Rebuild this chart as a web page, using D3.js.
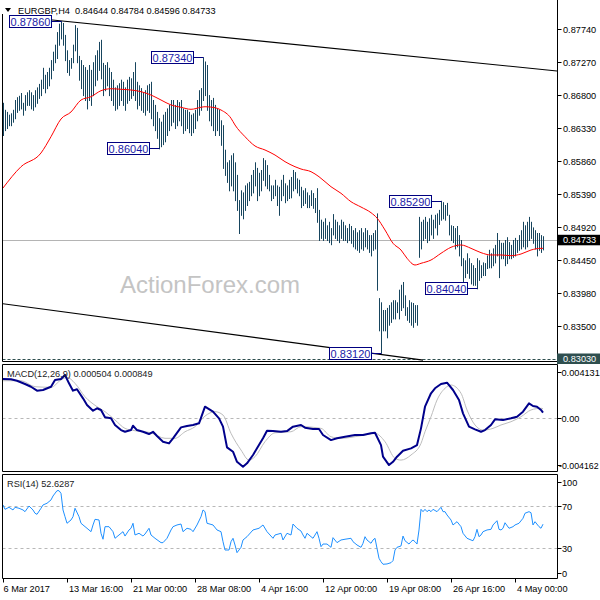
<!DOCTYPE html>
<html><head><meta charset="utf-8">
<script src="https://cdn.jsdelivr.net/npm/d3@7"></script>
<style>
html,body{margin:0;padding:0;background:#fff;}
svg{display:block;font-family:"Liberation Sans",Arial,sans-serif;}
</style></head><body>
<svg id="c" width="600" height="600"></svg>
<script>
// ---------------- DATA ----------------
const symbolInfo = "EURGBP,H4  0.84644 0.84784 0.84596 0.84733";
const lastPrice = 0.84733;
const lowLevel = 0.83030;

const barHighs = [
0.8669,0.8659,0.8656,0.8652,0.8654,0.8659,0.8673,0.8677,0.8679,0.8683,
0.8669,0.8680,0.8684,0.8687,0.8684,0.8680,0.8687,0.8691,0.8696,0.8702,
0.8719,0.8709,0.8713,0.8719,0.8730,0.8742,0.8752,0.8770,0.8782,0.8786,
0.8783,0.8766,0.8744,0.8730,0.8733,0.8752,0.8780,0.8776,0.8736,0.8730,
0.8723,0.8720,0.8716,0.8723,0.8716,0.8727,0.8737,0.8744,0.8756,0.8759,
0.8726,0.8723,0.8727,0.8719,0.8713,0.8702,0.8691,0.8694,0.8697,0.8702,
0.8699,0.8691,0.8702,0.8706,0.8704,0.8713,0.8727,0.8699,0.8694,0.8690,
0.8684,0.8687,0.8694,0.8696,0.8699,0.8673,0.8666,0.8656,0.8647,0.8642,
0.8652,0.8656,0.8661,0.8666,0.8673,0.8673,0.8666,0.8673,0.8670,0.8673,
0.8661,0.8659,0.8659,0.8656,0.8652,0.8654,0.8659,0.8673,0.8687,0.8690,
0.8734,0.8728,0.8723,0.8680,0.8673,0.8676,0.8666,0.8661,0.8659,0.8644,
0.8637,0.8602,0.8584,0.8587,0.8594,0.8597,0.8584,0.8566,0.8530,0.8544,
0.8541,0.8551,0.8554,0.8556,0.8566,0.8573,0.8584,0.8576,0.8569,0.8573,
0.8590,0.8587,0.8580,0.8566,0.8551,0.8551,0.8559,0.8551,0.8549,0.8559,
0.8566,0.8554,0.8551,0.8559,0.8563,0.8573,0.8570,0.8561,0.8559,0.8549,
0.8544,0.8547,0.8541,0.8537,0.8544,0.8540,0.8533,0.8547,0.8516,0.8502,
0.8499,0.8504,0.8494,0.8499,0.8490,0.8510,0.8502,0.8499,0.8494,0.8502,
0.8499,0.8494,0.8490,0.8496,0.8493,0.8487,0.8490,0.8484,0.8487,0.8490,
0.8484,0.8490,0.8487,0.8480,0.8480,0.8483,0.8487,0.8511,0.8390,0.8384,
0.8373,0.8373,0.8376,0.8380,0.8384,0.8387,0.8387,0.8384,0.8402,0.8409,
0.8413,0.8394,0.8377,0.8387,0.8384,0.8383,0.8380,0.8380,0.8506,0.8499,
0.8502,0.8506,0.8499,0.8504,0.8509,0.8502,0.8509,0.8511,0.8516,0.8529,
0.8527,0.8523,0.8526,0.8509,0.8494,0.8493,0.8490,0.8493,0.8480,0.8473,
0.8447,0.8444,0.8454,0.8447,0.8440,0.8437,0.8433,0.8447,0.8444,0.8437,
0.8441,0.8440,0.8451,0.8459,0.8454,0.8461,0.8466,0.8483,0.8473,0.8469,
0.8469,0.8473,0.8477,0.8470,0.8466,0.8473,0.8476,0.8473,0.8480,0.8487,
0.8499,0.8494,0.8499,0.8506,0.8499,0.8491,0.8487,0.8483,0.8483,0.8480,0.84784
];
const barLows = [
0.8623,0.8630,0.8633,0.8637,0.8637,0.8642,0.8647,0.8656,0.8659,0.8661,
0.8652,0.8659,0.8666,0.8666,0.8661,0.8659,0.8664,0.8669,0.8676,0.8680,
0.8690,0.8684,0.8690,0.8694,0.8704,0.8716,0.8727,0.8733,0.8752,0.8761,
0.8752,0.8730,0.8713,0.8709,0.8719,0.8727,0.8744,0.8727,0.8702,0.8690,
0.8680,0.8673,0.8661,0.8673,0.8666,0.8680,0.8694,0.8702,0.8716,0.8704,
0.8680,0.8687,0.8694,0.8680,0.8673,0.8666,0.8659,0.8661,0.8666,0.8673,
0.8666,0.8659,0.8669,0.8673,0.8676,0.8680,0.8673,0.8661,0.8666,0.8659,
0.8656,0.8652,0.8659,0.8656,0.8647,0.8637,0.8630,0.8619,0.8604,0.8607,
0.8610,0.8614,0.8623,0.8630,0.8637,0.8642,0.8633,0.8637,0.8644,0.8637,
0.8626,0.8630,0.8633,0.8627,0.8623,0.8627,0.8633,0.8644,0.8652,0.8659,
0.8673,0.8680,0.8659,0.8644,0.8637,0.8630,0.8623,0.8630,0.8623,0.8609,
0.8576,0.8566,0.8556,0.8544,0.8551,0.8544,0.8530,0.8516,0.8483,0.8509,
0.8504,0.8516,0.8523,0.8530,0.8537,0.8541,0.8551,0.8530,0.8537,0.8544,
0.8559,0.8551,0.8547,0.8544,0.8530,0.8533,0.8537,0.8523,0.8509,0.8530,
0.8537,0.8527,0.8530,0.8533,0.8534,0.8544,0.8547,0.8541,0.8537,0.8520,
0.8523,0.8526,0.8520,0.8520,0.8523,0.8519,0.8513,0.8499,0.8473,0.8476,
0.8473,0.8476,0.8473,0.8470,0.8467,0.8481,0.8476,0.8473,0.8470,0.8476,
0.8473,0.8473,0.8470,0.8473,0.8469,0.8464,0.8461,0.8459,0.8456,0.8461,
0.8459,0.8464,0.8461,0.8456,0.8451,0.8459,0.8461,0.8402,0.8344,0.8312,
0.8344,0.8344,0.8334,0.8352,0.8356,0.8361,0.8361,0.8370,0.8361,0.8373,
0.8377,0.8366,0.8359,0.8356,0.8352,0.8349,0.8356,0.8352,0.8449,0.8461,
0.8473,0.8476,0.8470,0.8473,0.8481,0.8476,0.8491,0.8481,0.8496,0.8502,
0.8504,0.8502,0.8509,0.8481,0.8473,0.8470,0.8461,0.8464,0.8451,0.8437,
0.8413,0.8420,0.8426,0.8419,0.8411,0.8409,0.8409,0.8404,0.8416,0.8420,
0.8423,0.8423,0.8433,0.8434,0.8434,0.8437,0.8441,0.8451,0.8420,0.8447,
0.8447,0.8437,0.8440,0.8447,0.8447,0.8449,0.8451,0.8456,0.8459,0.8461,
0.8464,0.8461,0.8464,0.8473,0.8476,0.8469,0.8461,0.8451,0.8459,0.8456,0.84596
];

// moving average [bar, price]
const maPoints = [[0,0.85473],[9,0.85777],[19,0.85973],[24,0.86206],[29,0.86459],[34,0.86559],[39,0.86730],[44,0.86777],[49,0.86863],[54,0.86891],[59,0.86883],[64,0.86873],[69,0.86849],[74,0.86801],[79,0.86730],[84,0.86659],[89,0.86626],[94,0.86597],[99,0.86626],[101,0.86634],[106,0.86620],[109,0.86587],[114,0.86469],[116,0.86373],[121,0.86206],[126,0.86073],[131,0.86016],[136,0.85944],[141,0.85849],[146,0.85777],[149,0.85744],[154,0.85706],[158,0.85634],[164,0.85491],[169,0.85397],[174,0.85277],[179,0.85201],[184,0.85120],[187,0.85044],[191,0.84873],[195,0.84683],[199,0.84587],[202,0.84469],[206,0.84373],[209,0.84397],[214,0.84444],[219,0.84540],[224,0.84626],[229,0.84659],[234,0.84611],[239,0.84549],[244,0.84516],[249,0.84516],[254,0.84506],[259,0.84530],[264,0.84587],[269,0.84611],[270,0.84611]];

// MACD main [bar, value]
const macdMain = [[0,0.00348],[4,0.00346],[7,0.00333],[11,0.00304],[14,0.00280],[17,0.00245],[20,0.00251],[24,0.00280],[26,0.00340],[29,0.00348],[31,0.00384],[33,0.00310],[35,0.00245],[37,0.00257],[40,0.00177],[42,0.00118],[45,0.00067],[47,0.00089],[49,0.00074],[51,0.00009],[54,0.00000],[56,-0.00059],[59,-0.00104],[61,-0.00119],[64,-0.00104],[65,-0.00066],[67,-0.00104],[70,-0.00119],[73,-0.00139],[75,-0.00119],[77,-0.00157],[80,-0.00207],[83,-0.00222],[85,-0.00177],[89,-0.00080],[92,-0.00068],[95,-0.00059],[98,-0.00044],[101,0.00103],[105,0.00059],[108,0.00000],[110,-0.00074],[112,-0.00257],[115,-0.00296],[117,-0.00385],[120,-0.00429],[122,-0.00399],[125,-0.00325],[127,-0.00266],[130,-0.00177],[132,-0.00110],[135,-0.00113],[139,-0.00119],[142,-0.00113],[145,-0.00074],[149,-0.00059],[151,-0.00083],[155,-0.00095],[158,-0.00095],[160,-0.00148],[164,-0.00193],[167,-0.00177],[171,-0.00163],[176,-0.00148],[180,-0.00148],[184,-0.00133],[186,-0.00128],[189,-0.00237],[190,-0.00340],[193,-0.00414],[195,-0.00385],[197,-0.00340],[200,-0.00287],[204,-0.00266],[207,-0.00237],[209,-0.00089],[211,0.00103],[214,0.00222],[216,0.00266],[219,0.00304],[222,0.00316],[225,0.00251],[228,0.00162],[230,0.00044],[233,-0.00074],[236,-0.00098],[239,-0.00119],[241,-0.00104],[244,-0.00059],[246,-0.00009],[250,-0.00015],[254,0.00000],[257,0.00014],[260,0.00059],[263,0.00133],[265,0.00109],[267,0.00103],[269,0.00074],[270,0.000504]];

// MACD signal [bar, value]
const macdSignal = [[0,0.00333],[9,0.00333],[16,0.00280],[24,0.00275],[29,0.00340],[32,0.00363],[36,0.00310],[41,0.00191],[47,0.00103],[51,0.00059],[56,-0.00015],[61,-0.00089],[66,-0.00110],[74,-0.00128],[81,-0.00177],[86,-0.00177],[91,-0.00119],[96,-0.00074],[101,0.00020],[106,0.00059],[110,0.00029],[114,-0.00133],[119,-0.00281],[123,-0.00370],[126,-0.00340],[131,-0.00207],[136,-0.00128],[144,-0.00119],[149,-0.00074],[159,-0.00089],[164,-0.00163],[169,-0.00177],[179,-0.00154],[186,-0.00133],[191,-0.00207],[196,-0.00355],[199,-0.00370],[204,-0.00325],[209,-0.00222],[211,-0.00119],[214,0.00014],[217,0.00162],[221,0.00266],[224,0.00295],[229,0.00222],[232,0.00074],[236,-0.00059],[240,-0.00104],[245,-0.00089],[249,-0.00059],[254,-0.00030],[259,0.00014],[264,0.00074],[269,0.00089],[270,0.000849]];

// RSI(14) [bar, value]
const rsiPoints = [[0,70.7],[1,66.6],[3,68.5],[5,66.0],[6,68.5],[8,67.6],[10,66.0],[11,64.4],[13,69.7],[15,66.0],[16,62.9],[17,61.9],[19,67.6],[20,70.7],[22,72.3],[24,75.4],[25,79.1],[27,84.1],[28,84.1],[29,81.6],[30,66.0],[31,59.7],[32,53.5],[34,56.6],[35,59.7],[36,67.6],[38,59.7],[39,53.5],[40,51.9],[42,48.8],[44,45.6],[45,51.9],[46,57.2],[48,56.6],[49,44.1],[50,38.5],[51,50.3],[53,50.3],[55,45.6],[56,39.4],[58,42.5],[60,45.6],[61,41.5],[63,47.2],[64,48.8],[65,53.5],[66,42.5],[68,44.1],[70,41.5],[71,43.4],[73,48.8],[74,42.5],[76,39.4],[79,35.3],[80,35.3],[82,39.4],[84,47.2],[85,50.3],[87,51.9],[89,52.8],[90,45.6],[92,48.8],[94,47.8],[95,45.6],[97,51.9],[99,59.7],[100,66.0],[101,64.4],[102,53.5],[105,51.9],[107,47.2],[109,45.6],[110,36.2],[111,28.4],[113,28.4],[114,36.2],[115,39.4],[116,33.1],[117,25.9],[119,30.9],[120,37.8],[122,40.9],[125,47.2],[128,48.8],[130,51.9],[132,45.6],[135,39.4],[136,42.5],[139,44.1],[140,37.8],[142,44.1],[144,42.5],[145,52.8],[147,48.8],[149,46.2],[150,42.5],[151,39.4],[152,44.1],[154,40.9],[155,39.4],[157,45.6],[158,39.4],[159,31.5],[160,34.0],[162,34.0],[164,30.9],[165,40.0],[167,35.3],[169,37.8],[171,38.5],[174,39.4],[175,36.2],[177,33.1],[179,30.9],[180,34.7],[181,40.9],[182,37.8],[184,34.7],[185,37.8],[186,39.4],[187,30.0],[188,20.6],[189,17.4],[190,15.0],[192,15.3],[194,16.5],[195,18.4],[196,28.4],[197,30.9],[199,32.2],[200,41.5],[201,37.1],[203,34.0],[204,36.2],[205,37.8],[206,36.2],[207,34.0],[208,47.2],[209,66.6],[210,64.4],[211,66.6],[212,64.4],[213,66.0],[214,64.4],[215,66.6],[217,64.4],[219,68.5],[220,64.4],[221,64.4],[222,61.3],[224,56.6],[225,51.9],[227,55.0],[229,50.3],[230,44.1],[232,39.4],[234,37.8],[235,37.1],[236,40.9],[237,47.8],[238,40.9],[239,42.5],[240,45.6],[242,47.2],[244,47.8],[245,51.9],[247,55.9],[248,47.8],[249,47.2],[250,48.8],[251,54.0],[253,48.8],[255,50.3],[256,51.9],[258,53.5],[260,58.2],[261,62.9],[263,64.4],[264,63.4],[265,51.9],[266,55.0],[268,50.3],[269,48.8],[270,52.6287]];

// trend lines [bar, price]
const upperTrend = [[23.5,0.87876],[277,0.87144]];
const lowerTrend = [[-1.5,0.83826],[210,0.83014]];

// swing labels
const swingLabels = [
  {bar:29, price:0.87860, text:"0.87860"},
  {bar:100, price:0.87340, text:"0.87340"},
  {bar:78, price:0.86040, text:"0.86040"},
  {bar:219, price:0.85290, text:"0.85290"},
  {bar:237, price:0.84040, text:"0.84040"},
  {bar:189, price:0.83120, text:"0.83120"}
];

const priceTicks = [0.87740,0.87270,0.86800,0.86330,0.85860,0.85390,0.84920,0.84450,0.83980,0.83500];
const macdTicks = [0.004131,0,-0.004162];
const macdTickLabels = ["0.004131","0.00","-0.004162"];
const rsiTicks = [100,70,30,0];
const rsiLevels = [70,30];
const dateBars = [0,32,64,96,128,160,192,224,256];
const dateLabels = ["6 Mar 2017","13 Mar 16:00","21 Mar 00:00","28 Mar 08:00","4 Apr 16:00","12 Apr 00:00","19 Apr 08:00","26 Apr 16:00","4 May 00:00"];
const macdTitle = "MACD(12,26,9) 0.000504 0.000849";
const rsiTitle = "RSI(14) 52.6287";
const watermark = "ActionForex.com";

// ---------------- LAYOUT ----------------
const svg = d3.select("#c");
const L = 2.5, R = 557.5;
const P1 = {top:0, bottom:361.5};
const P2 = {top:364.5, bottom:471.5};
const P3 = {top:474.5, bottom:578.5};
const FONT = 9.2;

const x = d3.scaleLinear().domain([0,270]).range([3,543]);
const y = d3.scaleLinear().domain([0.8774,0.8303]).range([29.3,359]);
const ym = d3.scaleLinear().domain([0.004131,-0.004162]).range([371.7,465.3]);
const yr = d3.scaleLinear().domain([0,100]).range([580.25,473.75]);

const defs = svg.append("defs");
[["c1",P1],["c2",P2],["c3",P3]].forEach(([id,p])=>{
  defs.append("clipPath").attr("id",id).append("rect")
    .attr("x",L+0.5).attr("y",p.top+0.5).attr("width",R-L-1).attr("height",p.bottom-p.top-1);
});

// ---------- Main panel ----------
const g1 = svg.append("g").attr("clip-path","url(#c1)");
g1.append("text").attr("x",120).attr("y",292.7).attr("font-size",24)
  .attr("fill","#c4c4c4").text(watermark);

g1.append("line").attr("x1",L).attr("x2",R)
  .attr("y1",Math.round(y(lastPrice))+0.5).attr("y2",Math.round(y(lastPrice))+0.5)
  .attr("stroke","#b4b4b4").attr("stroke-width",1);
g1.append("line").attr("x1",L).attr("x2",R)
  .attr("y1",Math.round(y(lowLevel))+0.5).attr("y2",Math.round(y(lowLevel))+0.5)
  .attr("stroke","#2f4f4f").attr("stroke-dasharray","3,2").attr("stroke-width",1);

[upperTrend, lowerTrend].forEach(t=>{
  g1.append("line").attr("x1",x(t[0][0])).attr("y1",y(t[0][1]))
    .attr("x2",x(t[1][0])).attr("y2",y(t[1][1]))
    .attr("stroke","#000").attr("stroke-width",1.1);
});

const barData = barHighs.map((h,i)=>({i,h,l:barLows[i]}));
g1.selectAll("line.bar").data(barData).join("line").attr("class","bar")
  .attr("x1",d=>x(d.i)+0.5).attr("x2",d=>x(d.i)+0.5)
  .attr("y1",d=>y(d.h)).attr("y2",d=>y(d.l)+1)
  .attr("stroke","#17455e").attr("stroke-width",1);

g1.append("path").datum(maPoints)
  .attr("d",d3.line().x(d=>x(d[0])).y(d=>y(d[1])).curve(d3.curveMonotoneX))
  .attr("fill","none").attr("stroke","#ff0000").attr("stroke-width",1);

swingLabels.forEach(s=>{
  const bx = x(s.bar);
  const py = Math.round(y(s.price))+0.5;
  const w = 42, h = 12;
  const right = Math.round(bx - 10) + 0.5;
  g1.append("line").attr("x1",right).attr("x2",bx+0.5).attr("y1",py).attr("y2",py)
    .attr("stroke","#000080").attr("stroke-width",1);
  g1.append("rect").attr("x",right-w).attr("y",py-h/2).attr("width",w).attr("height",h)
    .attr("fill","#fff").attr("stroke","#000080").attr("stroke-width",1);
  g1.append("text").attr("x",right-w/2).attr("y",py+4).attr("text-anchor","middle")
    .attr("font-size",11).attr("fill","#1a1aa8").text(s.text);
});

// ---------- MACD panel ----------
const g2 = svg.append("g").attr("clip-path","url(#c2)");
g2.append("line").attr("x1",L).attr("x2",R).attr("y1",Math.round(ym(0))+0.5).attr("y2",Math.round(ym(0))+0.5)
  .attr("stroke","#b8b8b8").attr("stroke-dasharray","3,3");
g2.append("path").datum(macdSignal)
  .attr("d",d3.line().x(d=>x(d[0])).y(d=>ym(d[1])).curve(d3.curveMonotoneX))
  .attr("fill","none").attr("stroke","#bdbdbd").attr("stroke-width",1);
g2.append("path").datum(macdMain)
  .attr("d",d3.line().x(d=>x(d[0])).y(d=>ym(d[1])))
  .attr("fill","none").attr("stroke","#00008b").attr("stroke-width",2).attr("stroke-linejoin","round");
g2.append("text").attr("x",7).attr("y",377).attr("font-size",FONT).attr("fill","#222").text(macdTitle);

// ---------- RSI panel ----------
const g3 = svg.append("g").attr("clip-path","url(#c3)");
rsiLevels.forEach(v=>{
  g3.append("line").attr("x1",L).attr("x2",R).attr("y1",Math.round(yr(v))+0.5).attr("y2",Math.round(yr(v))+0.5)
    .attr("stroke","#b8b8b8").attr("stroke-dasharray","3,3");
});
g3.append("path").datum(rsiPoints)
  .attr("d",d3.line().x(d=>x(d[0])).y(d=>yr(d[1])))
  .attr("fill","none").attr("stroke","#1e90ff").attr("stroke-width",1);
g3.append("text").attr("x",7).attr("y",487).attr("font-size",FONT).attr("fill","#222").text(rsiTitle);

// ---------- Frames ----------
[P1,P2,P3].forEach((p,k)=>{
  const top = k===0 ? 14 : p.top;
  svg.append("path").attr("d",`M${L},${top}V${p.bottom}H${R}V${p.top}` + (k===0?"":`H${L}`))
    .attr("fill","none").attr("stroke","#000").attr("stroke-width",1);
});

// ---------- Header ----------
svg.append("path").attr("d","M5,8 L11,8 L8,12 Z").attr("fill","#000");
svg.append("text").attr("x",18).attr("y",13.5).attr("font-size",FONT).attr("fill","#000")
  .attr("xml:space","preserve").style("white-space","pre").text(symbolInfo);

// ---------- Price axis ----------
const ax = svg.append("g");
priceTicks.forEach(v=>{
  const yy = Math.round(y(v))+0.5;
  ax.append("line").attr("x1",R).attr("x2",R+4).attr("y1",yy).attr("y2",yy).attr("stroke","#000");
  ax.append("text").attr("x",563).attr("y",yy+3.3).attr("font-size",FONT).attr("fill","#000")
    .text(d3.format(".5f")(v));
});
const lpY = y(lastPrice);
ax.append("rect").attr("x",557).attr("y",lpY-5).attr("width",43).attr("height",10.5).attr("fill","#000");
ax.append("text").attr("x",563).attr("y",lpY+3.6).attr("font-size",FONT).attr("fill","#fff").text(d3.format(".5f")(lastPrice));
const llY = y(lowLevel);
ax.append("rect").attr("x",557).attr("y",llY-5.5).attr("width",43).attr("height",10.5).attr("fill","#2f4f4f");
ax.append("text").attr("x",563).attr("y",llY+3.3).attr("font-size",FONT).attr("fill","#fff").text(d3.format(".5f")(lowLevel));

// MACD axis
macdTicks.forEach((v,k)=>{
  const yy = Math.round(ym(v))+0.5;
  ax.append("line").attr("x1",R).attr("x2",R+4).attr("y1",yy).attr("y2",yy).attr("stroke","#000");
  ax.append("text").attr("x",v<0?559:561.5).attr("y",yy+3.3).attr("font-size",v<0?8.8:FONT).attr("fill","#000")
    .text(macdTickLabels[k]);
});
// RSI axis
rsiTicks.forEach(v=>{
  let yy = yr(v);
  if (v===100) yy = 481.7;
  if (v===0) yy = 572.7;
  yy = Math.round(yy)+0.5;
  ax.append("line").attr("x1",R).attr("x2",R+4).attr("y1",yy).attr("y2",yy).attr("stroke","#000");
  ax.append("text").attr("x",562).attr("y",yy+3.3).attr("font-size",FONT).attr("fill","#000").text(v);
});

// Date axis
dateBars.forEach((b,k)=>{
  const xx = Math.round(x(b))+0.5;
  ax.append("line").attr("x1",xx).attr("x2",xx).attr("y1",P3.bottom).attr("y2",P3.bottom+4).attr("stroke","#000");
  ax.append("text").attr("x",xx+(k===0?0:1.5)).attr("y",591.5).attr("font-size",FONT).attr("fill","#000").text(dateLabels[k]);
});
</script>
</body></html>
